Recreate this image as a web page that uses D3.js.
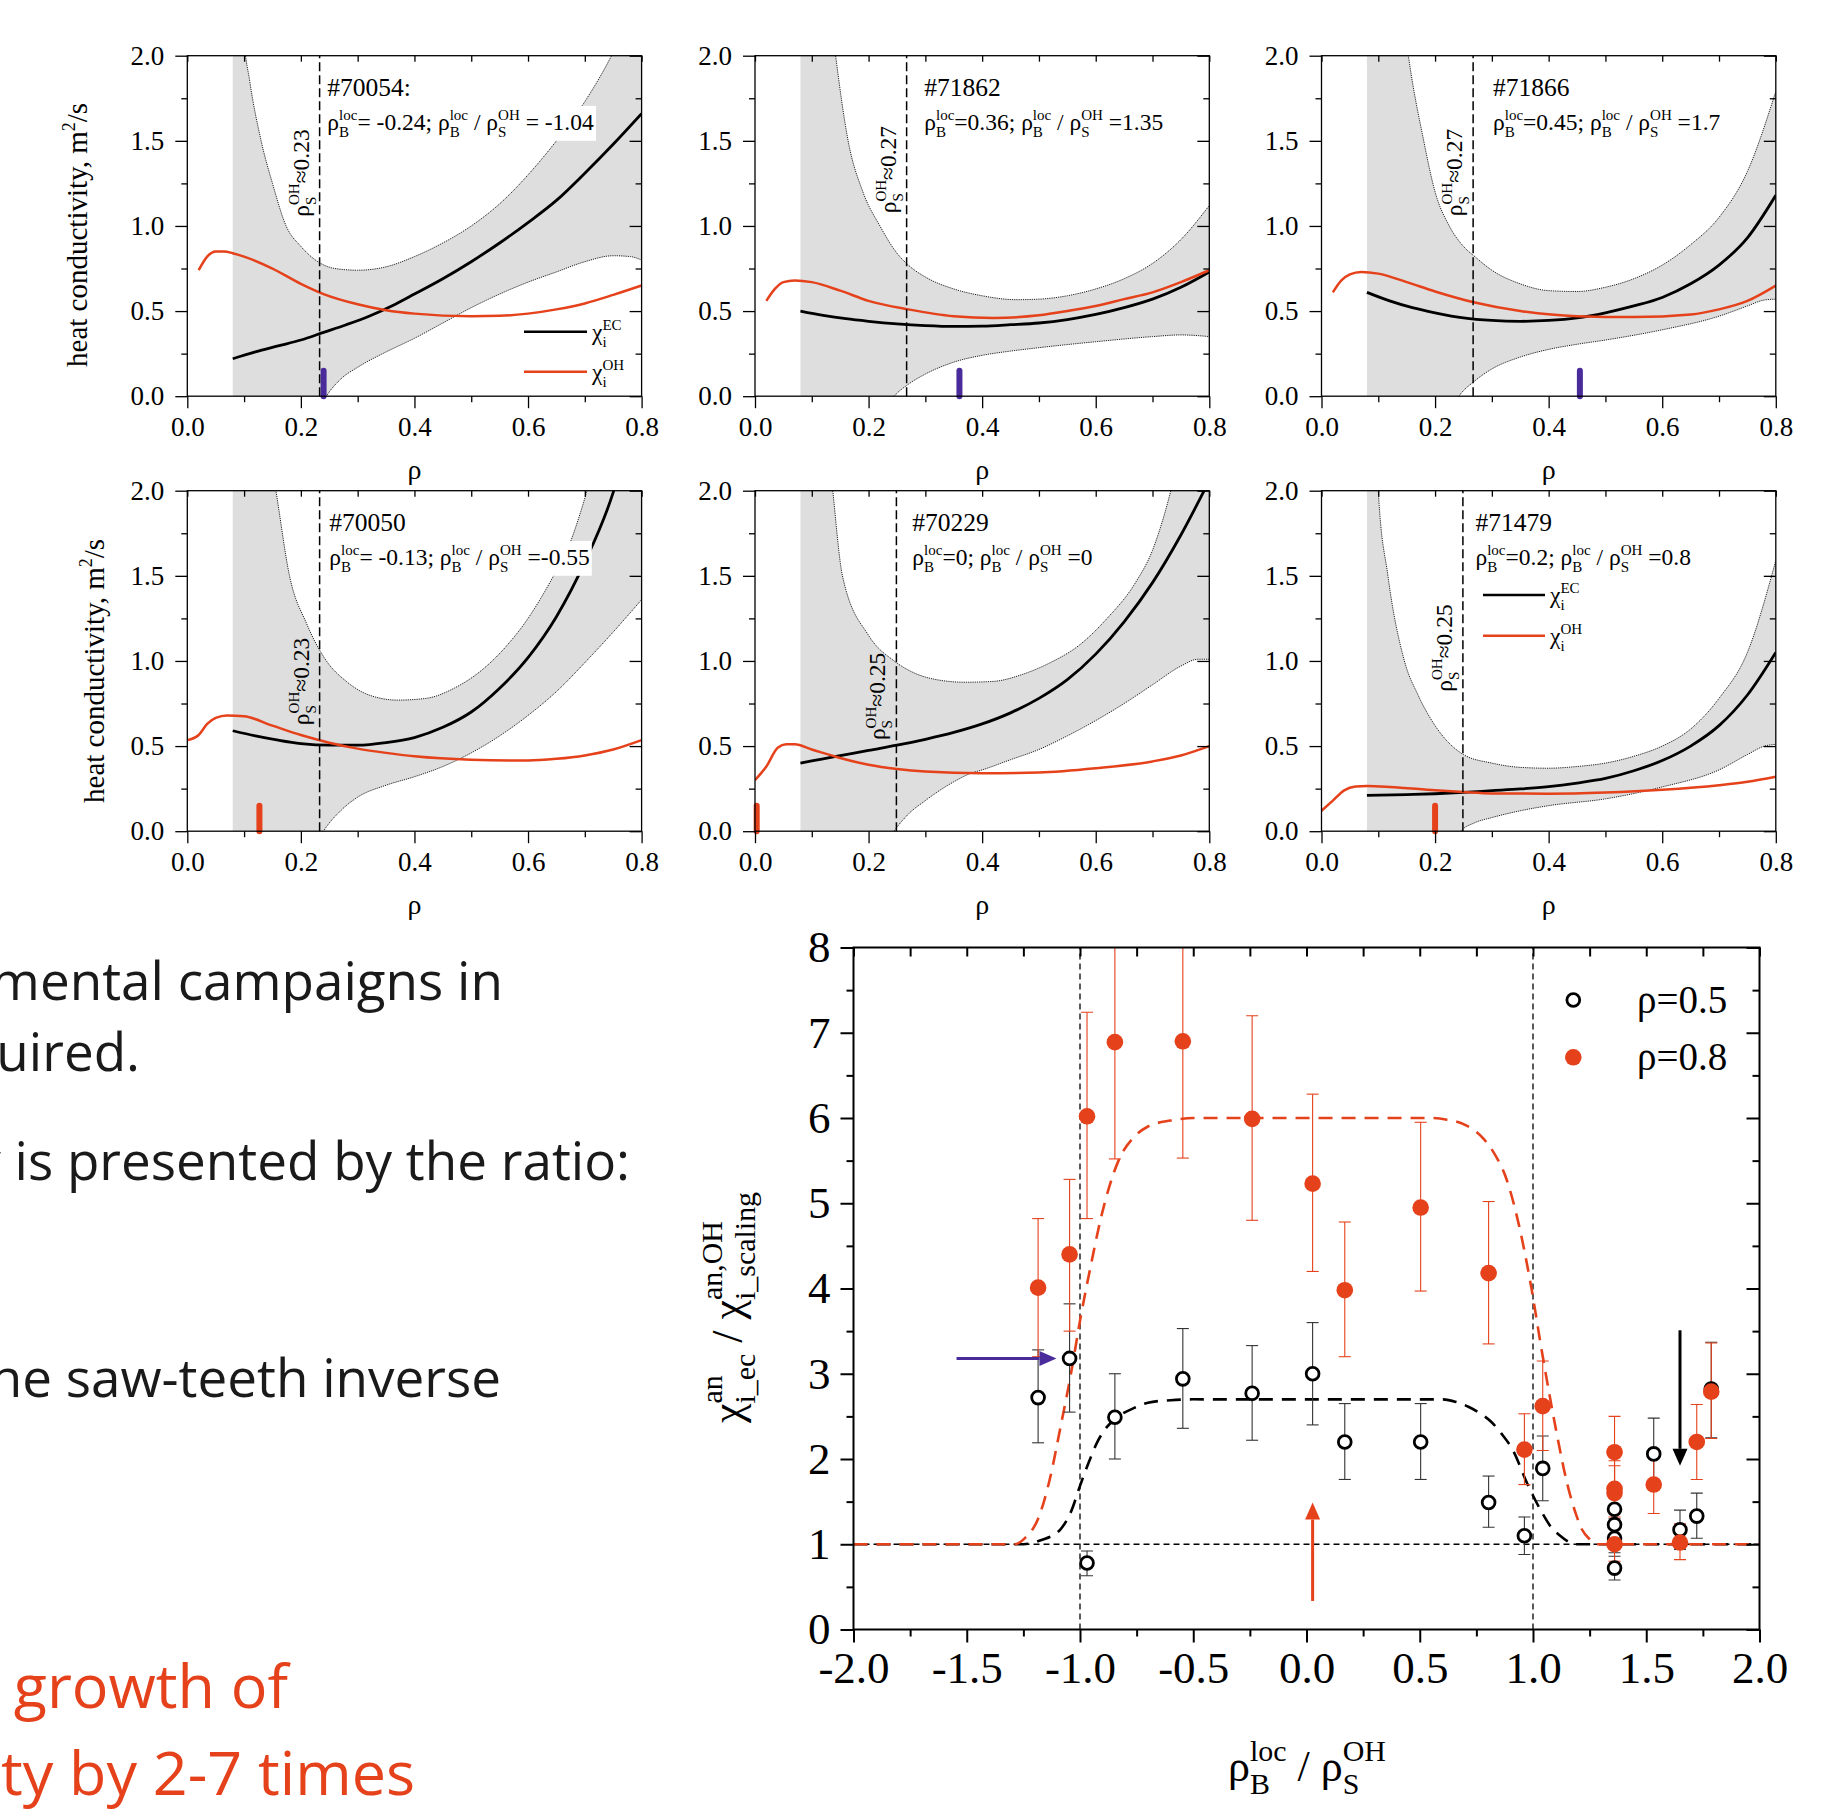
<!DOCTYPE html>
<html><head><meta charset="utf-8">
<script src="https://cdn.jsdelivr.net/npm/d3@7"></script>
<style>body{margin:0;background:#fff;} svg{display:block} text{white-space:pre}</style>
</head><body>
<svg id="c" width="1826" height="1814"></svg>
<script>
// ================= DATA =================
const shots = ['#70054:', '#71862', '#71866', '#70050', '#70229', '#71479'];
const rhoBlocText = ['= -0.24; ', '=0.36; ', '=0.45; ', '= -0.13; ', '=0; ', '=0.2; '];
const ratioText = [' = -1.04', ' =1.35', ' =1.7', ' =-0.55', ' =0', ' =0.8'];
const rhoSOH = [0.233, 0.267, 0.267, 0.233, 0.249, 0.249];
const rhoSOHLabel = ['≈0.23', '≈0.27', '≈0.27', '≈0.23', '≈0.25', '≈0.25'];
const rhoBloc = [0.24, 0.36, 0.455, 0.127, 0.003, 0.2];
const bandStart = [0.08, 0.08, 0.08, 0.08, 0.08, 0.08];

// chi_i^EC (black), chi_i^OH (red), band upper / lower, per shot
const ec_70054 = [[0.08,0.22],[0.12,0.26],[0.16,0.295],[0.2,0.33],[0.24,0.375],[0.28,0.42],[0.32,0.47],[0.36,0.53],[0.4,0.6],[0.45,0.69],[0.5,0.79],[0.55,0.9],[0.6,1.02],[0.65,1.15],[0.7,1.31],[0.75,1.48],[0.8,1.66]];
const oh_70054 = [[0.02,0.74],[0.035,0.82],[0.05,0.85],[0.065,0.85],[0.08,0.84],[0.1,0.82],[0.15,0.75],[0.2,0.66],[0.24,0.6],[0.3,0.54],[0.35,0.505],[0.4,0.485],[0.5,0.47],[0.55,0.472],[0.6,0.485],[0.65,0.51],[0.7,0.545],[0.75,0.595],[0.8,0.65]];
const up_70054 = [[0.08,4],[0.09,2.8],[0.1,2.1],[0.11,1.85],[0.13,1.5],[0.15,1.25],[0.174,1.0],[0.2,0.88],[0.23,0.79],[0.26,0.75],[0.3,0.74],[0.35,0.76],[0.4,0.82],[0.45,0.9],[0.5,1.0],[0.55,1.13],[0.6,1.3],[0.65,1.5],[0.7,1.73],[0.75,2.02],[0.8,2.4]];
const lo_70054 = [[0.2,-0.35],[0.245,0],[0.27,0.1],[0.3,0.17],[0.35,0.26],[0.4,0.34],[0.45,0.43],[0.5,0.52],[0.55,0.6],[0.6,0.67],[0.65,0.73],[0.7,0.79],[0.75,0.825],[0.78,0.82],[0.8,0.8]];

const ec_71862 = [[0.08,0.5],[0.12,0.475],[0.16,0.455],[0.2,0.44],[0.25,0.425],[0.3,0.415],[0.35,0.41],[0.4,0.412],[0.45,0.42],[0.5,0.43],[0.55,0.45],[0.6,0.48],[0.65,0.52],[0.7,0.57],[0.75,0.64],[0.8,0.73]];
const oh_71862 = [[0.02,0.56],[0.035,0.63],[0.05,0.67],[0.07,0.68],[0.1,0.67],[0.15,0.62],[0.2,0.56],[0.27,0.51],[0.35,0.47],[0.42,0.46],[0.5,0.475],[0.55,0.5],[0.6,0.53],[0.65,0.57],[0.7,0.61],[0.75,0.67],[0.8,0.74]];
const up_71862 = [[0.08,5],[0.11,3],[0.142,2.0],[0.164,1.5],[0.19,1.2],[0.22,1.0],[0.25,0.84],[0.27,0.77],[0.3,0.7],[0.35,0.63],[0.4,0.59],[0.46,0.567],[0.5,0.57],[0.55,0.59],[0.6,0.63],[0.65,0.69],[0.7,0.78],[0.75,0.92],[0.8,1.12]];
const lo_71862 = [[0.2,-0.25],[0.245,0],[0.27,0.07],[0.3,0.13],[0.35,0.2],[0.4,0.24],[0.45,0.265],[0.5,0.285],[0.6,0.32],[0.7,0.35],[0.75,0.36],[0.8,0.35]];

const ec_71866 = [[0.08,0.61],[0.12,0.56],[0.16,0.52],[0.2,0.49],[0.25,0.46],[0.3,0.445],[0.35,0.44],[0.4,0.445],[0.45,0.46],[0.5,0.49],[0.55,0.53],[0.6,0.58],[0.65,0.66],[0.7,0.77],[0.75,0.93],[0.8,1.18]];
const oh_71866 = [[0.02,0.61],[0.035,0.68],[0.05,0.715],[0.07,0.73],[0.1,0.72],[0.15,0.67],[0.2,0.615],[0.27,0.55],[0.35,0.5],[0.45,0.47],[0.55,0.465],[0.65,0.48],[0.7,0.51],[0.75,0.56],[0.8,0.65]];
const up_71866 = [[0.08,6],[0.12,3],[0.153,2.0],[0.18,1.5],[0.2,1.2],[0.225,1.0],[0.25,0.88],[0.27,0.82],[0.3,0.74],[0.35,0.66],[0.4,0.62],[0.45,0.615],[0.5,0.64],[0.55,0.69],[0.6,0.77],[0.65,0.89],[0.7,1.05],[0.75,1.32],[0.8,1.79]];
const lo_71866 = [[0.2,-0.3],[0.242,0],[0.27,0.09],[0.3,0.16],[0.35,0.23],[0.4,0.275],[0.45,0.305],[0.5,0.33],[0.6,0.39],[0.7,0.47],[0.75,0.53],[0.78,0.565],[0.8,0.57]];

const ec_70050 = [[0.08,0.59],[0.12,0.56],[0.16,0.535],[0.2,0.515],[0.25,0.505],[0.3,0.505],[0.35,0.52],[0.4,0.55],[0.45,0.61],[0.5,0.7],[0.55,0.84],[0.6,1.02],[0.65,1.26],[0.7,1.58],[0.75,1.99],[0.76,2.1]];
const oh_70050 = [[0.0,0.535],[0.02,0.565],[0.035,0.63],[0.05,0.665],[0.07,0.68],[0.1,0.675],[0.15,0.62],[0.2,0.565],[0.25,0.52],[0.3,0.485],[0.35,0.46],[0.4,0.44],[0.5,0.42],[0.6,0.415],[0.65,0.425],[0.7,0.445],[0.75,0.48],[0.8,0.535]];
const up_70050 = [[0.08,6],[0.13,2.5],[0.156,2.0],[0.18,1.5],[0.21,1.22],[0.245,1.0],[0.28,0.88],[0.32,0.8],[0.37,0.77],[0.42,0.78],[0.47,0.84],[0.52,0.95],[0.56,1.08],[0.6,1.25],[0.64,1.47],[0.67,1.66],[0.704,2.0],[0.75,2.6],[0.8,3.3]];
const lo_70050 = [[0.2,-0.3],[0.24,0],[0.27,0.12],[0.3,0.2],[0.35,0.27],[0.4,0.32],[0.45,0.38],[0.5,0.46],[0.55,0.56],[0.6,0.68],[0.65,0.82],[0.7,0.99],[0.75,1.17],[0.8,1.36]];

const ec_70229 = [[0.08,0.4],[0.12,0.425],[0.16,0.45],[0.2,0.475],[0.25,0.505],[0.3,0.54],[0.35,0.58],[0.4,0.63],[0.45,0.695],[0.5,0.78],[0.55,0.89],[0.6,1.04],[0.65,1.23],[0.7,1.46],[0.75,1.74],[0.8,2.06]];
const oh_70229 = [[0.0,0.3],[0.02,0.38],[0.04,0.49],[0.055,0.51],[0.07,0.51],[0.1,0.48],[0.15,0.43],[0.2,0.39],[0.25,0.365],[0.3,0.35],[0.4,0.34],[0.5,0.345],[0.6,0.37],[0.7,0.41],[0.75,0.445],[0.8,0.5]];
const up_70229 = [[0.08,6],[0.12,2.6],[0.137,2.0],[0.154,1.5],[0.2,1.15],[0.245,1.0],[0.28,0.93],[0.32,0.89],[0.37,0.875],[0.42,0.88],[0.47,0.92],[0.52,0.99],[0.57,1.09],[0.62,1.25],[0.67,1.46],[0.7,1.65],[0.72,1.85],[0.74,2.1],[0.77,2.5],[0.8,3.0]];
const lo_70229 = [[0.2,-0.3],[0.245,0],[0.27,0.1],[0.3,0.18],[0.35,0.29],[0.38,0.34],[0.4,0.36],[0.45,0.42],[0.5,0.48],[0.55,0.56],[0.6,0.65],[0.65,0.75],[0.7,0.86],[0.75,0.97],[0.78,1.01],[0.8,1.01]];

const ec_71479 = [[0.08,0.21],[0.15,0.215],[0.2,0.22],[0.25,0.228],[0.3,0.238],[0.35,0.248],[0.4,0.262],[0.45,0.283],[0.5,0.31],[0.55,0.355],[0.6,0.415],[0.65,0.5],[0.7,0.62],[0.75,0.8],[0.8,1.05]];
const oh_71479 = [[0.0,0.12],[0.02,0.18],[0.04,0.24],[0.06,0.262],[0.08,0.265],[0.12,0.26],[0.2,0.24],[0.25,0.23],[0.3,0.222],[0.4,0.22],[0.5,0.227],[0.6,0.243],[0.7,0.27],[0.75,0.29],[0.8,0.32]];
const up_71479 = [[0.08,6],[0.095,2.4],[0.1,2.0],[0.117,1.5],[0.146,1.0],[0.17,0.8],[0.2,0.62],[0.25,0.45],[0.3,0.4],[0.35,0.375],[0.4,0.37],[0.45,0.38],[0.5,0.4],[0.55,0.44],[0.6,0.5],[0.65,0.6],[0.7,0.78],[0.75,1.05],[0.8,1.59]];
const lo_71479 = [[0.2,-0.3],[0.245,0],[0.27,0.05],[0.3,0.08],[0.35,0.12],[0.4,0.15],[0.5,0.19],[0.6,0.26],[0.7,0.36],[0.75,0.45],[0.78,0.5],[0.8,0.51]];

const ecCurves = [ec_70054, ec_71862, ec_71866, ec_70050, ec_70229, ec_71479];
const ohCurves = [oh_70054, oh_71862, oh_71866, oh_70050, oh_70229, oh_71479];
const upCurves = [up_70054, up_71862, up_71866, up_70050, up_70229, up_71479];
const loCurves = [lo_70054, lo_71862, lo_71866, lo_70050, lo_70229, lo_71479];

const panelXTicks = [0, 0.2, 0.4, 0.6, 0.8];
const panelXMinor = [0.1, 0.3, 0.5, 0.7];
const panelYTicks = [0, 0.5, 1.0, 1.5, 2.0];
const panelYMinor = [0.25, 0.75, 1.25, 1.75];

// bottom chart: ratio vs rho_B^loc / rho_S^OH
const ratioX = [-1.185,-1.046,-0.969,-0.846,-0.546,-0.24,0.027,0.169,0.504,0.804,0.962,1.043,1.36,1.36,1.36,1.36,1.533,1.649,1.723,1.787];
const r05 = [2.72,3.18,0.78,2.49,2.94,2.77,3.0,2.2,2.2,1.49,1.1,1.89,1.41,1.23,1.07,0.72,2.06,1.17,1.33,2.82];
const r05lo = [2.19,2.55,0.63,2.0,2.36,2.22,2.4,1.76,1.76,1.2,0.88,1.51,1.2,1.0,0.9,0.58,1.65,0.94,1.07,2.25];
const r05hi = [3.28,3.82,0.92,3.0,3.53,3.33,3.6,2.65,2.65,1.8,1.32,2.27,1.7,1.45,1.3,0.86,2.48,1.4,1.6,3.37];
const r08 = [4.01,4.4,6.02,6.89,6.9,5.99,5.23,3.98,4.95,4.18,2.11,2.62,2.08,1.65,1.6,1.0,1.7,1.02,2.2,2.79];
const r08lo = [3.2,3.5,4.82,5.52,5.53,4.8,4.2,3.2,3.97,3.35,1.7,2.1,1.67,1.32,1.28,0.8,1.36,0.82,1.76,2.24];
const r08hi = [4.82,5.28,7.24,8.3,8.3,7.2,6.28,4.78,5.95,5.02,2.53,3.15,2.5,1.98,1.92,1.2,2.04,1.24,2.64,3.36];
const model08 = [[-2,1],[-1.29,1],[-1.24,1.08],[-1.185,1.3],[-1.13,1.8],[-1.088,2.35],[-1.04,3.0],[-0.998,3.65],[-0.95,4.3],[-0.91,4.8],[-0.87,5.2],[-0.83,5.5],[-0.76,5.78],[-0.7,5.9],[-0.6,5.97],[-0.5,6.0],[0.55,6.0],[0.62,5.98],[0.7,5.92],[0.78,5.76],[0.83,5.58],[0.878,5.32],[0.94,4.72],[0.99,4.05],[1.04,3.25],[1.104,2.31],[1.152,1.7],[1.19,1.35],[1.217,1.17],[1.25,1.06],[1.28,1.0],[2,1]];
const model05 = [[-2,1],[-1.25,1],[-1.17,1.05],[-1.088,1.17],[-1.04,1.38],[-0.998,1.7],[-0.96,1.97],[-0.927,2.18],[-0.88,2.38],[-0.83,2.5],[-0.76,2.6],[-0.7,2.66],[-0.6,2.69],[-0.5,2.7],[0.6,2.7],[0.66,2.67],[0.717,2.61],[0.77,2.53],[0.814,2.44],[0.86,2.3],[0.91,2.11],[0.975,1.71],[1.04,1.37],[1.08,1.2],[1.12,1.1],[1.15,1.04],[1.185,1.0],[2,1]];
const refVLines = [-1, 1];
const refHLine = 1;
const arrowsData = [[-1.545,3.18,-1.104,3.18],[0.027,0.335,0.027,1.49],[1.649,3.51,1.649,1.92]];
const legendLabels = ['ρ=0.5', 'ρ=0.8'];
const ratioXTicks = [-2,-1.5,-1,-0.5,0,0.5,1,1.5,2];
const ratioXMinor = [-1.75,-1.25,-0.75,-0.25,0.25,0.75,1.25,1.75];
const ratioYTicks = [0,1,2,3,4,5,6,7,8];
const ratioYMinor = [0.5,1.5,2.5,3.5,4.5,5.5,6.5,7.5];

const bodyText = ['mental campaigns in', 'required.', 'y is presented by the ratio:', 'the saw-teeth inverse'];
const bodyRedText = ['growth of', 'conductivity by 2-7 times'];

// ================= STYLE / LAYOUT =================
const SERIF = "'Liberation Serif','Times New Roman',serif";
const SANS = "'Open Sans','Noto Sans',sans-serif";
const RED = '#e5411b', PURPLE = '#4a2b9b', BAND = '#dddedd';
const svg = d3.select('#c');
const defs = svg.append('defs');

function rich(parent, parts, size, opt = {}) {
  const g = parent.append('g');
  const fam = opt.family || SERIF, fill = opt.fill || '#000', sc = opt.scale || 0.62;
  let cx = 0;
  for (const p of parts) {
    if (typeof p === 'string') {
      const t = g.append('text').attr('x', cx).attr('y', 0).attr('font-size', size)
        .attr('font-family', fam).attr('fill', fill).text(p);
      cx += t.node().getComputedTextLength();
    } else {
      let w = 0;
      if (p.sup != null) {
        const t = g.append('text').attr('x', cx).attr('y', -size * (opt.supShift || 0.42))
          .attr('font-size', size * sc).attr('font-family', fam).attr('fill', fill).text(p.sup);
        w = Math.max(w, t.node().getComputedTextLength());
      }
      if (p.sub != null) {
        const t = g.append('text').attr('x', cx).attr('y', size * (opt.subShift || 0.3))
          .attr('font-size', size * sc).attr('font-family', fam).attr('fill', fill).text(p.sub);
        w = Math.max(w, t.node().getComputedTextLength());
      }
      cx += w;
    }
  }
  const dx = opt.anchor === 'middle' ? -cx / 2 : opt.anchor === 'end' ? -cx : 0;
  g.attr('transform', `translate(${opt.x || 0},${opt.y || 0})` + (opt.rotate ? ` rotate(${opt.rotate})` : '') + ` translate(${dx},0)`);
  return g;
}

function drawAxes(g, x, y, o) {
  const [xl, xr] = x.range(), [yb, yt] = y.range();
  const style = sel => { sel.select('.domain').remove(); sel.selectAll('line').attr('stroke', '#000').attr('stroke-width', o.sw);
    sel.attr('font-family', SERIF).attr('font-size', o.fs).selectAll('text').attr('fill', '#000'); };
  g.append('g').attr('transform', `translate(0,${yb})`)
    .call(d3.axisBottom(x).tickValues(o.xt).tickFormat(d => d.toFixed(o.xdec)).tickSizeInner(o.maj).tickSizeOuter(0).tickPadding(o.padX)).call(style);
  g.append('g').attr('transform', `translate(0,${yb})`)
    .call(d3.axisBottom(x).tickValues(o.xm).tickFormat('').tickSizeInner(o.min).tickSizeOuter(0)).call(style);
  g.append('g').attr('transform', `translate(0,${yt})`)
    .call(d3.axisTop(x).tickValues(o.xt.concat(o.xm)).tickFormat('').tickSizeInner(-o.topLen).tickSizeOuter(0)).call(style);
  g.append('g').attr('transform', `translate(${xl},0)`)
    .call(d3.axisLeft(y).tickValues(o.yt).tickFormat(d => d.toFixed(o.ydec)).tickSizeInner(o.maj).tickSizeOuter(0).tickPadding(o.padY)).call(style);
  g.append('g').attr('transform', `translate(${xl},0)`)
    .call(d3.axisLeft(y).tickValues(o.ym).tickFormat('').tickSizeInner(o.min).tickSizeOuter(0)).call(style);
  g.append('g').attr('transform', `translate(${xr},0)`)
    .call(d3.axisRight(y).tickValues(o.yt).tickFormat('').tickSizeInner(-o.maj).tickSizeOuter(0)).call(style);
  g.append('g').attr('transform', `translate(${xr},0)`)
    .call(d3.axisRight(y).tickValues(o.ym).tickFormat('').tickSizeInner(-o.min).tickSizeOuter(0)).call(style);
  g.append('rect').attr('x', xl).attr('y', yt).attr('width', xr - xl).attr('height', yb - yt)
    .attr('fill', 'none').attr('stroke', '#000').attr('stroke-width', o.sw);
}

// ================= PANELS =================
const X0 = [187.3, 755, 1321.5], PW = 454.3, Y0 = [55.7, 490.7], PH = 340.5;
const labelStart = [1.054, 1.074, 1.057, 0.623, 0.535, 0.819];
const annX = [0.2466, 0.298, 0.302, 0.25, 0.277, 0.271];

shots.forEach((shot, i) => {
  const col = i % 3, row = Math.floor(i / 3);
  const x = d3.scaleLinear([0, 0.8], [X0[col], X0[col] + PW]);
  const y = d3.scaleLinear([0, 2], [Y0[row] + PH, Y0[row]]);
  const cid = 'clip' + i;
  defs.append('clipPath').attr('id', cid).append('rect')
    .attr('x', X0[col]).attr('y', Y0[row]).attr('width', PW).attr('height', PH);
  const g = svg.append('g');
  const pg = g.append('g').attr('clip-path', `url(#${cid})`);
  const line = d3.line().x(d => x(d[0])).y(d => y(d[1])).curve(d3.curveMonotoneX);
  const areaBelow = d3.area().x(d => x(d[0])).y0(y(-1)).y1(d => y(d[1])).curve(d3.curveMonotoneX);

  // uncertainty band
  pg.append('path').attr('d', areaBelow(upCurves[i].filter(d => d[0] >= bandStart[i]))).attr('fill', BAND);
  pg.append('path').attr('d', areaBelow(loCurves[i])).attr('fill', '#fff');
  pg.append('path').attr('d', line(upCurves[i])).attr('fill', 'none').attr('stroke', '#222').attr('stroke-width', 1).attr('stroke-dasharray', '1.2,1');
  pg.append('path').attr('d', line(loCurves[i])).attr('fill', 'none').attr('stroke', '#222').attr('stroke-width', 1).attr('stroke-dasharray', '1.2,1');

  const boxLayer = g.append('g');
  // marker rho_B^loc
  g.append('line').attr('x1', x(rhoBloc[i])).attr('x2', x(rhoBloc[i])).attr('y1', y(0)).attr('y2', y(0.15))
    .attr('stroke', i < 3 ? PURPLE : RED).attr('stroke-width', 6).attr('stroke-linecap', 'round');
  // rho_S^OH dashed
  g.append('line').attr('x1', x(rhoSOH[i])).attr('x2', x(rhoSOH[i])).attr('y1', y(0)).attr('y2', y(2))
    .attr('stroke', '#000').attr('stroke-width', 1.5).attr('stroke-dasharray', '9,4');
  // curves
  pg.append('path').attr('d', line(ecCurves[i])).attr('fill', 'none').attr('stroke', '#000').attr('stroke-width', 2.8);
  pg.append('path').attr('d', line(ohCurves[i])).attr('fill', 'none').attr('stroke', RED).attr('stroke-width', 2.5);

  // texts
  rich(g, [shot], 25.5, { x: x(annX[i]), y: y(1.765) });
  const l2 = rich(g, ['ρ', { sup: 'loc', sub: 'B' }, rhoBlocText[i], 'ρ', { sup: 'loc', sub: 'B' }, ' / ', 'ρ', { sup: 'OH', sub: 'S' }, ratioText[i]], 23.5,
    { x: x(annX[i]), y: y(1.565), scale: 0.64 });
  const bb = l2.node().getBBox();
  boxLayer.append('rect').attr('x', x(annX[i]) + bb.x - 2).attr('y', y(1.565) + bb.y - 1)
    .attr('width', bb.width + 4).attr('height', bb.height + 2).attr('fill', '#fff');
  rich(g, ['ρ', { sup: 'OH', sub: 'S' }, rhoSOHLabel[i]], 23.5, { x: x(rhoSOH[i]) - 11, y: y(labelStart[i]), rotate: -90, scale: 0.64 });

  drawAxes(g, x, y, { xt: panelXTicks, xm: panelXMinor, yt: panelYTicks, ym: panelYMinor, xdec: 1, ydec: 1,
    maj: 12, min: 6, topLen: 6, sw: 1.3, fs: 27, padX: 9, padY: 11 });
  g.append('text').attr('x', X0[col] + PW / 2).attr('y', Y0[row] + PH + 83).attr('text-anchor', 'middle')
    .attr('font-family', SERIF).attr('font-size', 28).text('ρ');
  if (col === 0) {
    rich(g, ['heat conductivity, m', { sup: '2' }, '/s'], 29, { x: row === 0 ? 87 : 104, y: Y0[row] + PH / 2 + (row === 0 ? 9 : 10), rotate: -90, anchor: 'middle' });
  }
});

// panel legends (#70054 and #71479)
function panelLegend(x1, x2, y1, y2) {
  svg.append('line').attr('x1', x1).attr('x2', x2).attr('y1', y1).attr('y2', y1).attr('stroke', '#000').attr('stroke-width', 2.6);
  svg.append('line').attr('x1', x1).attr('x2', x2).attr('y1', y2).attr('y2', y2).attr('stroke', RED).attr('stroke-width', 2.4);
  rich(svg, ['χ', { sup: 'EC', sub: 'i' }], 23.5, { x: x2 + 5, y: y1 + 8, scale: 0.64 });
  rich(svg, ['χ', { sup: 'OH', sub: 'i' }], 23.5, { x: x2 + 5, y: y2 + 8, scale: 0.64 });
}
panelLegend(524, 587, 331.7, 371.7);
panelLegend(1483, 1545, 595, 635.7);

// ================= BOTTOM CHART =================
const bx = d3.scaleLinear([-2, 2], [853.5, 1759.5]);
const by = d3.scaleLinear([0, 8], [1629.5, 947.5]);
defs.append('clipPath').attr('id', 'clipB').append('rect').attr('x', 853.5).attr('y', 947.5).attr('width', 906).attr('height', 682);
const bg = svg.append('g');
const bp = bg.append('g').attr('clip-path', 'url(#clipB)');
refVLines.forEach(v => bp.append('line').attr('x1', bx(v)).attr('x2', bx(v)).attr('y1', by(0)).attr('y2', by(8))
  .attr('stroke', '#000').attr('stroke-width', 1.3).attr('stroke-dasharray', '6,4'));
bp.append('line').attr('x1', bx(-2)).attr('x2', bx(2)).attr('y1', by(refHLine)).attr('y2', by(refHLine))
  .attr('stroke', '#000').attr('stroke-width', 1.3).attr('stroke-dasharray', '6,4');
const bline = d3.line().x(d => bx(d[0])).y(d => by(d[1])).curve(d3.curveMonotoneX);
bp.append('path').attr('d', bline(model05)).attr('fill', 'none').attr('stroke', '#000').attr('stroke-width', 2.6).attr('stroke-dasharray', '14,9');
bp.append('path').attr('d', bline(model08)).attr('fill', 'none').attr('stroke', RED).attr('stroke-width', 2.6).attr('stroke-dasharray', '14,9');

function errBars(lo, hi, color) {
  ratioX.forEach((xv, k) => {
    const X = bx(xv);
    bp.append('line').attr('x1', X).attr('x2', X).attr('y1', by(lo[k])).attr('y2', by(hi[k])).attr('stroke', color).attr('stroke-width', 1.1);
    [lo[k], hi[k]].forEach(v => bp.append('line').attr('x1', X - 6).attr('x2', X + 6).attr('y1', by(v)).attr('y2', by(v)).attr('stroke', color).attr('stroke-width', 1.1));
  });
}
errBars(r05lo, r05hi, '#333');
errBars(r08lo, r08hi, RED);
bp.selectAll('circle.o').data(ratioX).join('circle').attr('class', 'o')
  .attr('cx', d => bx(d)).attr('cy', (d, k) => by(r05[k])).attr('r', 6.4)
  .attr('fill', '#fff').attr('stroke', '#000').attr('stroke-width', 2.8);
bp.selectAll('circle.f').data(ratioX).join('circle').attr('class', 'f')
  .attr('cx', d => bx(d)).attr('cy', (d, k) => by(r08[k])).attr('r', 8.3).attr('fill', RED);

// arrows
const arrowColors = [PURPLE, RED, '#000'];
arrowsData.forEach((a, k) => {
  const x1 = bx(a[0]), y1 = by(a[1]), x2 = bx(a[2]), y2 = by(a[3]);
  const ang = Math.atan2(y2 - y1, x2 - x1), L = 17, W = 7.5;
  const bxp = x2 - L * Math.cos(ang), byp = y2 - L * Math.sin(ang);
  bg.append('line').attr('x1', x1).attr('y1', y1).attr('x2', bxp).attr('y2', byp).attr('stroke', arrowColors[k]).attr('stroke-width', 3);
  const px = -Math.sin(ang), py = Math.cos(ang);
  bg.append('path').attr('d', `M${x2},${y2}L${bxp + W * px},${byp + W * py}L${bxp - W * px},${byp - W * py}Z`).attr('fill', arrowColors[k]);
});

drawAxes(bg, bx, by, { xt: ratioXTicks, xm: ratioXMinor, yt: ratioYTicks, ym: ratioYMinor, xdec: 1, ydec: 0,
  maj: 13, min: 7, topLen: 9, sw: 2, fs: 45, padX: 9, padY: 10 });

// legend
bg.append('circle').attr('cx', 1573.3).attr('cy', 1000).attr('r', 6.4).attr('fill', '#fff').attr('stroke', '#000').attr('stroke-width', 2.8);
bg.append('circle').attr('cx', 1573.3).attr('cy', 1057.3).attr('r', 8.3).attr('fill', RED);
legendLabels.forEach((t, k) => bg.append('text').attr('x', 1637).attr('y', k ? 1070 : 1013.3)
  .attr('font-family', SERIF).attr('font-size', 39).text(t));

// axis titles
rich(bg, ['χ', { sup: 'an', sub: 'i_ec' }, ' / ', 'χ', { sup: 'an,OH', sub: 'i_scaling' }], 44,
  { x: 742, y: 1307.5, rotate: -90, anchor: 'middle', scale: 0.68, supShift: 0.45, subShift: 0.3 });
rich(bg, ['ρ', { sup: 'loc', sub: 'B' }, ' / ', 'ρ', { sup: 'OH', sub: 'S' }], 44,
  { x: 1307, y: 1781, anchor: 'middle', scale: 0.68, supShift: 0.45, subShift: 0.3 });

// ================= BODY TEXT =================
const bodyEnd = [503, 140, 630, 501], bodyBase = [1000, 1071, 1180, 1397];
bodyText.forEach((t, k) => svg.append('text').attr('x', bodyEnd[k]).attr('y', bodyBase[k]).attr('text-anchor', 'end')
  .attr('font-family', SANS).attr('font-size', 53).attr('fill', '#1a1a1a').text(t));
const redEnd = [288, 415], redBase = [1708, 1795];
bodyRedText.forEach((t, k) => svg.append('text').attr('x', redEnd[k]).attr('y', redBase[k]).attr('text-anchor', 'end')
  .attr('font-family', SANS).attr('font-size', 61).attr('fill', RED).text(t));
</script></body></html>
